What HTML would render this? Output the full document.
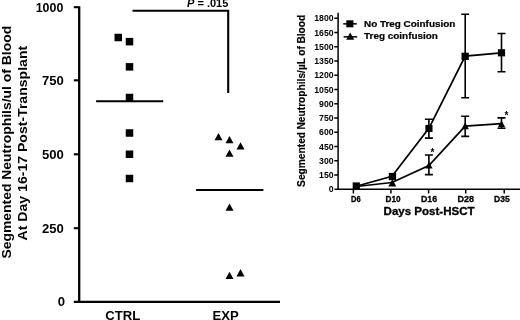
<!DOCTYPE html>
<html><head><meta charset="utf-8">
<style>
html,body{margin:0;padding:0;background:#fff;}
body{width:520px;height:320px;overflow:hidden;}
svg{display:block;will-change:transform;filter:grayscale(1);font-family:"Liberation Sans",sans-serif;font-weight:bold;fill:#000;}
</style></head><body>
<svg width="520" height="320" viewBox="0 0 520 320">
<rect width="520" height="320" fill="#fff"/>
<!-- LEFT CHART -->
<g stroke="#000" fill="none">
<line x1="79.2" y1="6.3" x2="79.2" y2="302.9" stroke-width="2.3"/>
<line x1="73.8" y1="301.8" x2="280" y2="301.8" stroke-width="2.2"/>
<g stroke-width="2.1">
<line x1="73.8" y1="7.2" x2="79" y2="7.2"/>
<line x1="73.8" y1="80.3" x2="79" y2="80.3"/>
<line x1="73.8" y1="154.3" x2="79" y2="154.3"/>
<line x1="73.8" y1="228.2" x2="79" y2="228.2"/>
</g>
<line x1="96.1" y1="101.3" x2="163.2" y2="101.3" stroke-width="2.1"/>
<line x1="196.1" y1="190" x2="263.4" y2="190" stroke-width="2.1"/>
<polyline points="132.5,10.8 228.2,10.8 228.2,93" stroke-width="2.1"/>
</g>
<g font-size="13.1" text-anchor="end">
<text x="63.3" y="11.9" textLength="27.6" lengthAdjust="spacingAndGlyphs">1000</text>
<text x="63.9" y="85.3">750</text>
<text x="63.9" y="159.05">500</text>
<text x="63.9" y="232.95">250</text>
<text x="65.1" y="306.2">0</text>
</g>
<text font-size="13.1" text-anchor="middle" x="122.7" y="319.7">CTRL</text>
<text font-size="13.1" text-anchor="middle" x="225.6" y="319.7">EXP</text>
<text font-size="11" x="187" y="7.2"><tspan font-style="italic">P</tspan> = .015</text>
<text font-size="12.3" text-anchor="middle" transform="translate(10.7,142.2) rotate(-90) scale(1.134,1)">Segmented Neutrophils/ul of Blood</text>
<text font-size="12.3" text-anchor="middle" transform="translate(26.9,143.1) rotate(-90) scale(1.1445,1)">At Day 16-17 Post-Transplant</text>
<g id="sq">
<rect x="114.5" y="33.75" width="7.5" height="7.5"/>
<rect x="125.75" y="37.9" width="7.5" height="7.5"/>
<rect x="125.75" y="63.1" width="7.5" height="7.5"/>
<rect x="125.75" y="93.75" width="7.5" height="7.5"/>
<rect x="125.75" y="129.25" width="7.5" height="7.5"/>
<rect x="125.75" y="150.5" width="7.5" height="7.5"/>
<rect x="125.75" y="174.75" width="7.5" height="7.5"/>
</g>
<defs><path id="t" d="M0,-4 L4,3.3 L-4,3.3 Z"/><path id="u" d="M0,-3.9 L3.7,3 L-3.7,3 Z"/></defs>
<use href="#t" x="218.5" y="137"/>
<use href="#t" x="229.5" y="140"/>
<use href="#t" x="240.5" y="146.25"/>
<use href="#t" x="229.5" y="153.5"/>
<use href="#t" x="229.5" y="207.4"/>
<use href="#t" x="229.5" y="275.8"/>
<use href="#t" x="240.5" y="273.1"/>

<!-- RIGHT CHART -->
<g stroke="#000" fill="none" stroke-width="1.5">
<line x1="338.1" y1="12.8" x2="338.1" y2="190"/>
<line x1="334.5" y1="189.3" x2="520" y2="189.3"/>
<path d="M334.3,18.30H338 M334.3,32.55H338 M334.3,46.80H338 M334.3,61.05H338 M334.3,75.30H338 M334.3,89.55H338 M334.3,103.80H338 M334.3,118.05H338 M334.3,132.30H338 M334.3,146.55H338 M334.3,160.80H338 M334.3,175.05H338"/>
<path d="M353.4,189V193.5 M390.9,189V193.5 M428.6,189V193.5 M465.7,189V193.5 M504.2,189V193.5"/>
<!-- error bars -->
<g stroke-width="1.6">
<path d="M428.9,119.2V138.1 M424.9,119.2h8 M424.9,138.1h8"/>
<path d="M465.2,14.3V97.7 M461.2,14.3h8 M461.2,97.7h8"/>
<path d="M501.5,33.5V71.7 M497.5,33.5h8 M497.5,71.7h8"/>
<path d="M428.9,155V174.6 M424.9,155h8 M424.9,174.6h8"/>
<path d="M465.2,116.2V136.4 M461.2,116.2h8 M461.2,136.4h8"/>
<path d="M501.5,117.9V128.3 M497.5,117.9h8 M497.5,128.3h8"/>
</g>
<polyline points="356.25,186.25 392,176.25 428.9,128.4 465.2,56.2 501.5,52.8" stroke-width="1.75"/>
<polyline points="356.25,186.5 392,182.5 428.9,165.6 465.2,126.1 501.5,123.7" stroke-width="1.75"/>
<line x1="343.2" y1="23.85" x2="356.8" y2="23.85"/>
<line x1="343.6" y1="36.85" x2="357.2" y2="36.85"/>
</g>
<g font-size="8.7" text-anchor="end">
<text x="333.6" y="21.30">1800</text>
<text x="333.6" y="35.55">1650</text>
<text x="333.6" y="49.80">1500</text>
<text x="333.6" y="64.05">1350</text>
<text x="333.6" y="78.30">1200</text>
<text x="333.6" y="92.55">1050</text>
<text x="333.6" y="106.80">900</text>
<text x="333.6" y="121.05">750</text>
<text x="333.6" y="135.30">600</text>
<text x="333.6" y="149.55">450</text>
<text x="333.6" y="163.80">300</text>
<text x="333.6" y="178.05">150</text>
<text x="333.6" y="192.30">0</text>
</g>
<g font-size="8.4" stroke="#000" stroke-width="0.3">
<text x="351" y="201.7" textLength="9.6" lengthAdjust="spacingAndGlyphs">D6</text>
<text x="385.5" y="201.7" textLength="15" lengthAdjust="spacingAndGlyphs">D10</text>
<text x="421" y="201.7" textLength="16.1" lengthAdjust="spacingAndGlyphs">D16</text>
<text x="457.4" y="201.7" textLength="16.5" lengthAdjust="spacingAndGlyphs">D28</text>
<text x="494.1" y="201.7" textLength="15.6" lengthAdjust="spacingAndGlyphs">D35</text>
</g>
<text font-size="10.5" stroke="#000" stroke-width="0.3" x="383.6" y="214.7" textLength="91" lengthAdjust="spacingAndGlyphs">Days Post-HSCT</text>
<text font-size="8.5" stroke="#000" stroke-width="0.2" x="364" y="27.0" textLength="91.3" lengthAdjust="spacingAndGlyphs">No Treg Coinfusion</text>
<text font-size="8.5" stroke="#000" stroke-width="0.2" x="364" y="38.5" textLength="73.9" lengthAdjust="spacingAndGlyphs">Treg coinfusion</text>
<text font-size="10.6" word-spacing="-0.4" stroke="#000" stroke-width="0.15" transform="translate(305.1,186.9) rotate(-90) scale(0.963,1)">Segmented Neutrophils/µL of Blood</text>
<g>
<rect x="352.7" y="182.4" width="7.2" height="7.2"/>
<rect x="388.8" y="172.9" width="7.3" height="7.3"/>
<rect x="425.4" y="124.9" width="7.1" height="7.1"/>
<rect x="461.5" y="52.7" width="7.3" height="7.3"/>
<rect x="497.9" y="49.2" width="7.2" height="7.2"/>
<rect x="346.3" y="20.3" width="7.1" height="7"/>
</g>
<use href="#u" x="356.25" y="186.5"/>
<use href="#t" x="392.3" y="183.3"/>
<use href="#u" x="428.9" y="165.6"/>
<use href="#u" x="465.2" y="126.2"/>
<use href="#u" x="501.5" y="124.3"/>
<use href="#t" x="350.2" y="36.4"/>
<text font-size="10" text-anchor="middle" x="432.4" y="155.5">*</text>
<text font-size="10" text-anchor="middle" x="506.4" y="118.6">*</text>
</svg>
</body></html>
